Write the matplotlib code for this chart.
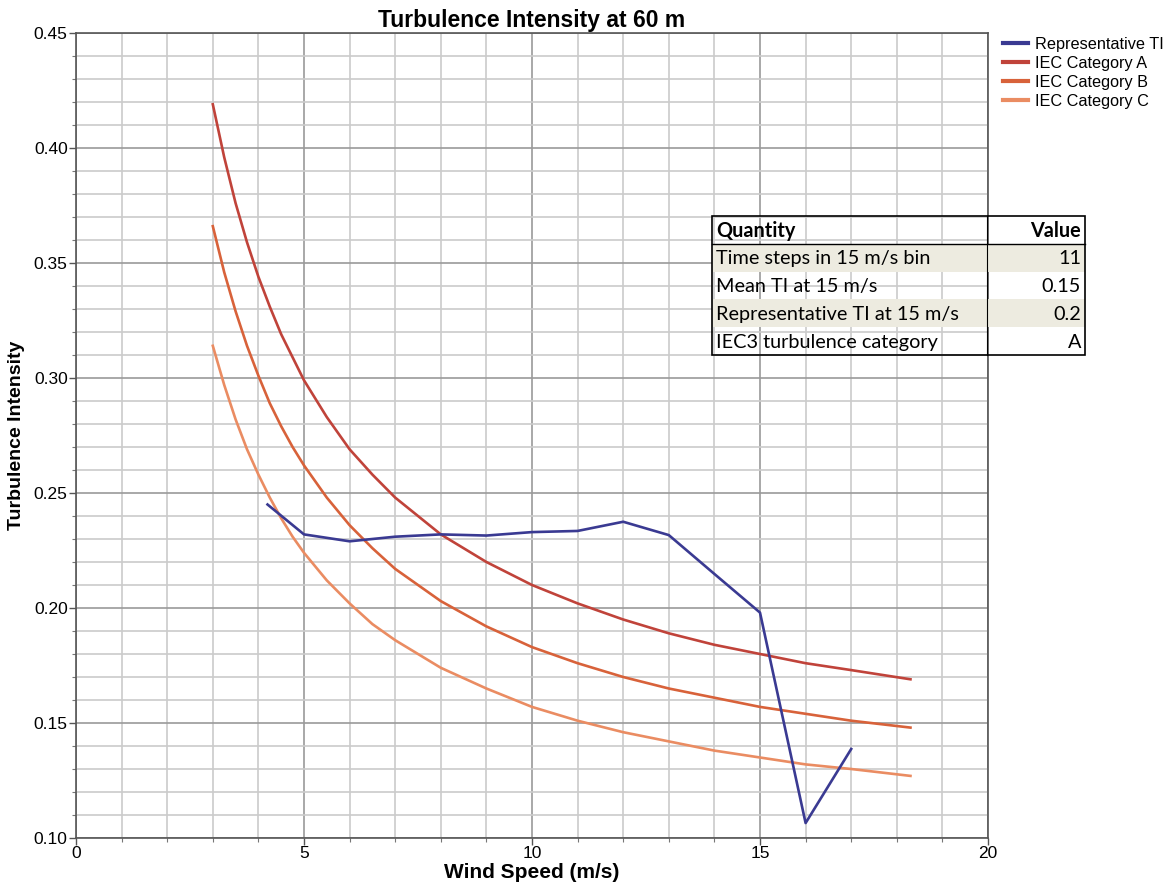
import matplotlib.pyplot as plt
from matplotlib.patches import Rectangle
from matplotlib.lines import Line2D
from matplotlib.ticker import MultipleLocator, FormatStrFormatter

# IEC category curves
wind_iec = [3, 3.25, 3.5, 3.75, 4, 4.25, 4.5, 4.75, 5, 5.5, 6, 6.5, 7, 7.5, 8,
            9, 10, 11, 12, 13, 14, 15, 16, 17, 18.3]
ti_a = [0.419, 0.396, 0.376, 0.359, 0.344, 0.331, 0.319, 0.309, 0.299, 0.283, 0.269,
        0.258, 0.248, 0.240, 0.232, 0.220, 0.210, 0.202, 0.195, 0.189, 0.184, 0.180,
        0.176, 0.173, 0.169]
ti_b = [0.366, 0.346, 0.329, 0.314, 0.301, 0.289, 0.279, 0.270, 0.262, 0.248, 0.236,
        0.226, 0.217, 0.210, 0.203, 0.192, 0.183, 0.176, 0.170, 0.165, 0.161, 0.157,
        0.154, 0.151, 0.148]
ti_c = [0.314, 0.297, 0.282, 0.269, 0.258, 0.248, 0.239, 0.231, 0.224, 0.212, 0.202,
        0.193, 0.186, 0.180, 0.174, 0.165, 0.157, 0.151, 0.146, 0.142, 0.138, 0.135,
        0.132, 0.130, 0.127]

# representative TI
wind_rep = [4.2, 5, 6, 7, 8, 9, 10, 11, 12, 13, 14, 15, 16, 17]
ti_rep = [0.245, 0.232, 0.229, 0.231, 0.232, 0.2315, 0.233, 0.2335, 0.2375, 0.2317,
          0.2148, 0.198, 0.1065, 0.1387]

table_rows = [("Quantity", "Value"),
              ("Time steps in 15 m/s bin", "11"),
              ("Mean TI at 15 m/s", "0.15"),
              ("Representative TI at 15 m/s", "0.2"),
              ("IEC3 turbulence category", "A")]

W, H = 1176, 886
plt.rcParams['font.family'] = ['Liberation Sans', 'DejaVu Sans']

fig = plt.figure(figsize=(W / 100, H / 100), dpi=100)
ax = fig.add_axes([76 / W, 1 - 838 / H, (988 - 76) / W, (838 - 33) / H])

c_rep = '#3a3a92'
c_a = '#c0433a'
c_b = '#d8623a'
c_c = '#ea8c62'

ax.plot(wind_iec, ti_c, color=c_c, lw=1.9, zorder=3)
ax.plot(wind_iec, ti_b, color=c_b, lw=1.9, zorder=3)
ax.plot(wind_iec, ti_a, color=c_a, lw=1.9, zorder=3)
ax.plot(wind_rep, ti_rep, color=c_rep, lw=1.9, zorder=4)

ax.set_xlim(0, 20)
ax.set_ylim(0.10, 0.45)
ax.xaxis.set_major_locator(MultipleLocator(5))
ax.xaxis.set_minor_locator(MultipleLocator(1))
ax.yaxis.set_major_locator(MultipleLocator(0.05))
ax.yaxis.set_minor_locator(MultipleLocator(0.01))
ax.yaxis.set_major_formatter(FormatStrFormatter('%.2f'))
ax.grid(which='major', color='#9a9a9a', lw=1.2)
ax.grid(which='minor', color='#cbcbcb', lw=1.2)
ax.set_axisbelow(True)
ax.tick_params(which='major', length=5, width=1, color='#555555', labelsize=12.5, pad=1)
ax.tick_params(which='minor', length=3, width=0.8, color='#777777')
for s in ax.spines.values():
    s.set_color('#555555')
    s.set_linewidth(1.2)

ax.set_title('Turbulence Intensity at 60 m', fontsize=16.5, fontweight='bold', pad=4)
ax.set_xlabel('Wind Speed (m/s)', fontsize=15, fontweight='bold', labelpad=1)
ax.set_ylabel('Turbulence Intensity', fontsize=14, fontweight='bold', labelpad=6)

handles = [Line2D([], [], color=c, lw=3) for c in (c_rep, c_a, c_b, c_c)]
fig.legend(handles, ['Representative TI', 'IEC Category A', 'IEC Category B', 'IEC Category C'],
           loc='upper left', bbox_to_anchor=(1003 / W, 1 - 37 / H), frameon=False,
           fontsize=11.7, handlelength=1.55, handletextpad=0.43, labelspacing=0.24,
           borderpad=0, borderaxespad=0)

# summary table drawn in figure pixels
tx0, tx1, tdiv = 712, 1085, 987
ty0, rh = 216, 27.8
tr = fig.transFigure
for i, (q, v) in enumerate(table_rows):
    top = ty0 + i * rh
    if i % 2 == 1:
        fig.add_artist(Rectangle((tx0 / W, 1 - (top + rh) / H), (tx1 - tx0) / W, rh / H,
                                 transform=tr, facecolor='#edebe0', edgecolor='none', zorder=5))
    yc = 1 - (top + rh / 2 + 1) / H
    weight = 'bold' if i == 0 else 'normal'
    fig.text((tx0 + 4) / W, yc, q, ha='left', va='center', fontsize=14.3, fontweight=weight,
             family=['Lato', 'DejaVu Sans'], zorder=6)
    fig.text((tx1 - 4) / W, yc, v, ha='right', va='center', fontsize=14.3, fontweight=weight,
             family=['Lato', 'DejaVu Sans'], zorder=6)

ybot = ty0 + len(table_rows) * rh
fig.add_artist(Rectangle((tx0 / W, 1 - ybot / H), (tx1 - tx0) / W, (ybot - ty0) / H,
                         transform=tr, facecolor='none', edgecolor='black', lw=1.2, zorder=7))
fig.add_artist(Line2D([tx0 / W, tx1 / W], [1 - (ty0 + rh) / H] * 2, transform=tr,
                      color='black', lw=1.0, zorder=7))
fig.add_artist(Line2D([tdiv / W] * 2, [1 - ty0 / H, 1 - ybot / H], transform=tr,
                      color='black', lw=0.8, zorder=7))

fig.savefig('out.png', dpi=100)
